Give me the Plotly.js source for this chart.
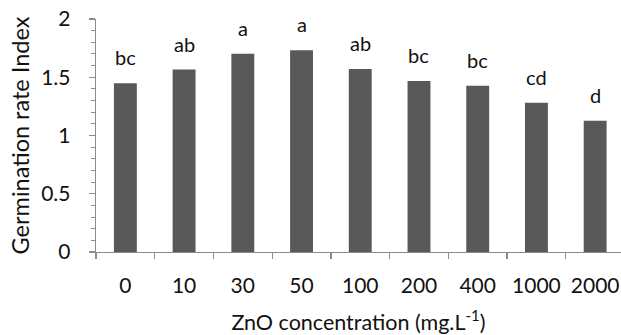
<!DOCTYPE html>
<html><head><meta charset="utf-8">
<script src="https://cdn.plot.ly/plotly-3.0.1.min.js"></script>
<style>html,body{margin:0;padding:0;background:#fff}#c{width:621px;height:335px}</style>
</head><body><div id="c"></div>
<script>
const categories = ["0","10","30","50","100","200","400","1000","2000"];
const values = [1.448, 1.566, 1.702, 1.731, 1.571, 1.468, 1.428, 1.282, 1.127];
const letters = ["bc","ab","a","a","ab","bc","bc","cd","d"];

const font = "Lato, 'Open Sans', sans-serif";
const annotations = categories.map((c,i)=>({
  x: i, y: values[i], xref:'x', yref:'y', text: letters[i], showarrow:false,
  yanchor:'bottom', yshift: 12, font:{family:font, size:20, color:'#111'}
}));

Plotly.newPlot('c', [{
  type:'bar', x: categories, y: values, width: 0.39,
  marker:{color:'#595959'}, hoverinfo:'skip'
}], {
  width:621, height:335,
  margin:{l:96, r:0, t:19, b:83},
  paper_bgcolor:'#fff', plot_bgcolor:'#fff',
  showlegend:false,
  font:{family:font, color:'#111'},
  xaxis:{
    type:'category', range:[-0.5, 8.44], showgrid:false, zeroline:false,
    showline:true, linecolor:'#8c8c8c', linewidth:1.3,
    ticks:'outside', tickson:'boundaries', ticklen:6, tickcolor:'#8c8c8c', tickwidth:1.3,
    ticklabelstandoff: 14,
    tickfont:{family:font, size:21, color:'#111'},
    title:{text:'ZnO concentration (mg.L<sup>-1</sup>)', font:{family:font, size:21.5, color:'#111'}, standoff: 19}
  },
  yaxis:{
    range:[0,2], dtick:0.5, showgrid:false, zeroline:false,
    showline:true, linecolor:'#8c8c8c', linewidth:1.3,
    ticks:'outside', ticklen:6, tickcolor:'#8c8c8c', tickwidth:1.3,
    minor:{dtick:0.1, ticks:'outside', ticklen:4, tickcolor:'#8c8c8c', tickwidth:1, showgrid:false},
    ticklabelstandoff: 14,
    tickfont:{family:font, size:21, color:'#111'},
    title:{text:'Germination rate Index', font:{family:font, size:23.5, color:'#111'}, standoff: 5}
  },
  annotations: annotations
}, {displayModeBar:false, staticPlot:true});
</script></body></html>
